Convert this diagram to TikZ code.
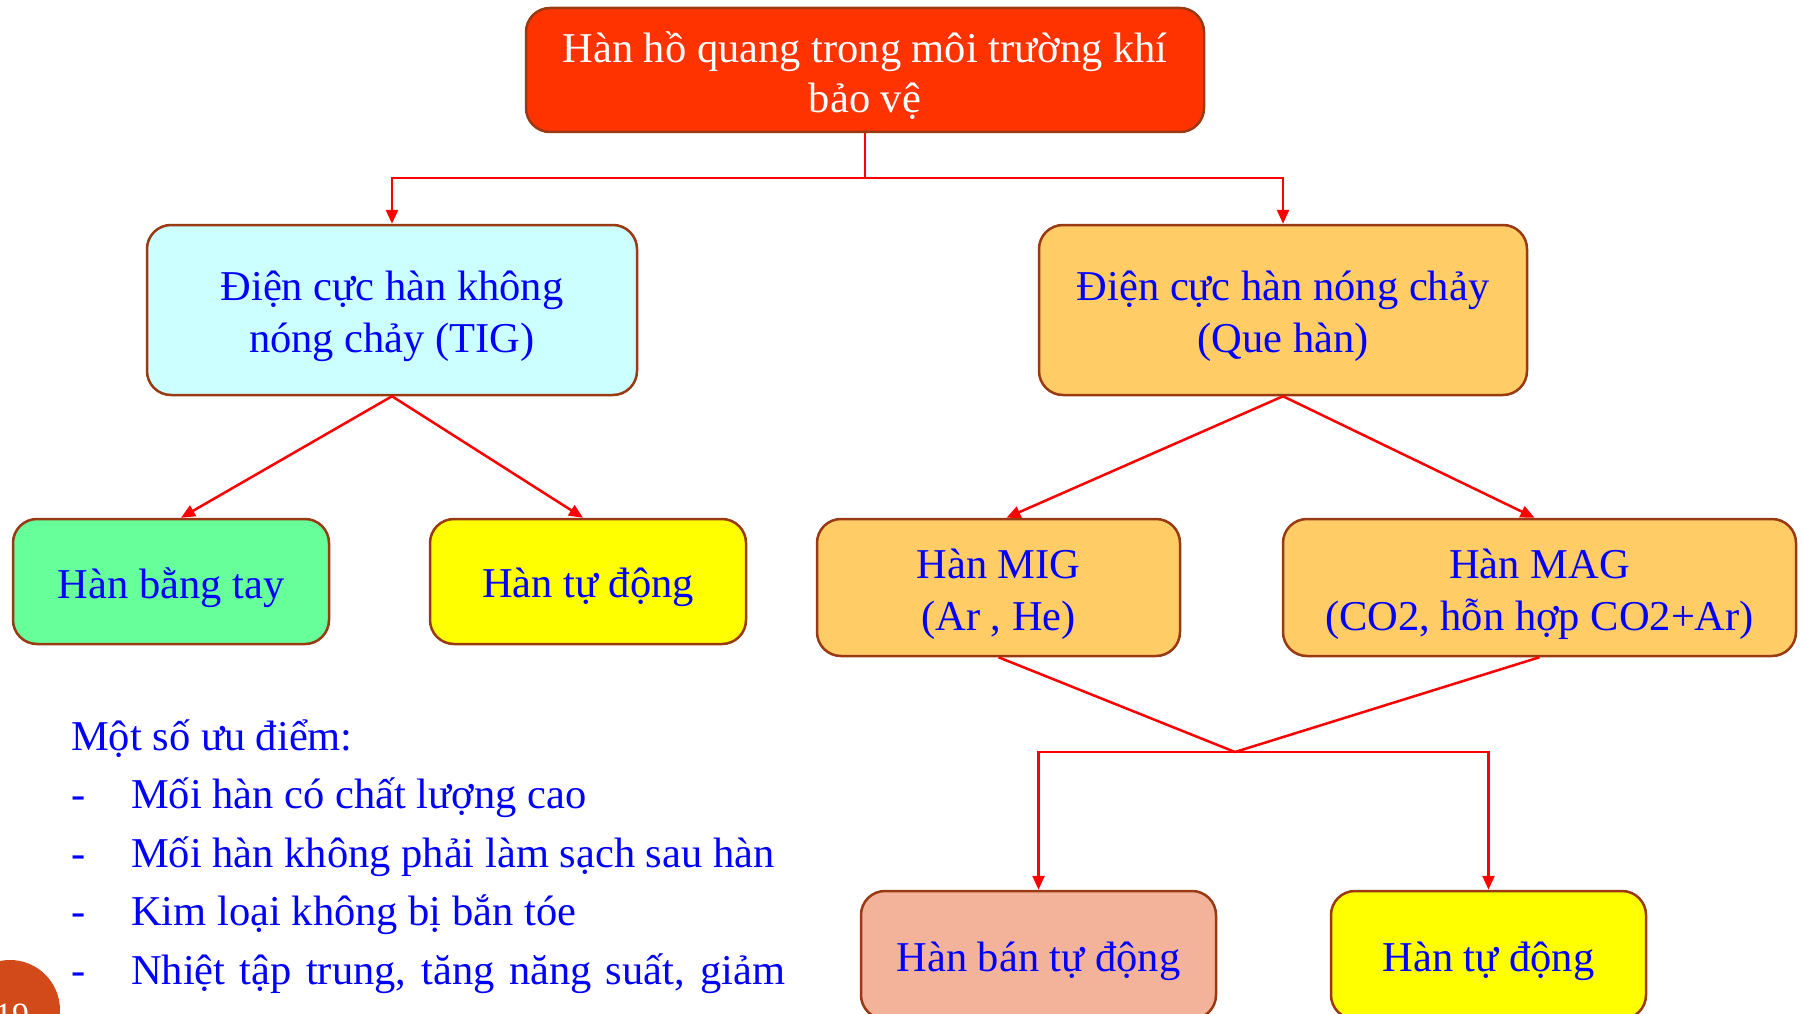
\documentclass[tikz,border=0pt]{standalone}
\usepackage{fontspec}
\setmainfont{Liberation Serif}
\usetikzlibrary{arrows.meta,calc}
\definecolor{edgebrown}{HTML}{9A3A12}
\definecolor{linered}{HTML}{FF0000}
\definecolor{textblue}{HTML}{0000FF}
\definecolor{topfill}{HTML}{FF3300}
\definecolor{cyanfill}{HTML}{CCFFFF}
\definecolor{orangefill}{HTML}{FFCC66}
\definecolor{greenfill}{HTML}{66FF99}
\definecolor{yellowfill}{HTML}{FFFF00}
\definecolor{salmonfill}{HTML}{F3B39B}
\definecolor{pagecirc}{HTML}{D24A1A}
\begin{document}
\begin{tikzpicture}[x=1pt,y=-1pt,
  box/.style={draw=edgebrown, line width=2.5pt, rounded corners=24pt, inner sep=0pt},
  lbl/.style={align=center, inner sep=0pt, text=textblue, font=\fontsize{42.5}{52}\selectfont},
  conn/.style={draw=linered, line width=2.5pt},
  arr/.style={conn, -{Triangle[length=14pt,width=12pt]}},
  listtext/.style={anchor=base west, inner sep=0pt, text=textblue, font=\fontsize{42.5}{52}\selectfont}]
\useasboundingbox (0,0) rectangle (1802,1014);
\clip (0,0) rectangle (1802,1014);

% boxes
\node[box, fill=topfill, minimum width=678pt, minimum height=124pt] (top) at (865,70) {};
\node[lbl, text=white, font=\fontsize{42.5}{50}\selectfont] (topt) at (865,76)
  {Hàn hồ quang trong môi trường khí\\bảo vệ};
\node[box, fill=cyanfill, minimum width=490pt, minimum height=170pt] (tig) at (392,310) {};
\node[lbl] (tigt) at (392,316) {Điện cực hàn không\\nóng chảy (TIG)};
\node[box, fill=orangefill, minimum width=488pt, minimum height=170pt] (que) at (1283,310) {};
\node[lbl] (quet) at (1283,316) {Điện cực hàn nóng chảy\\(Que hàn)};
\node[box, fill=greenfill, minimum width=316pt, minimum height=125pt] (tay) at (171,581.5) {};
\node[lbl] (tayt) at (171,587.5) {Hàn bằng tay};
\node[box, fill=yellowfill, minimum width=316pt, minimum height=125pt] (tdl) at (588,581.5) {};
\node[lbl] (tdlt) at (588,587.5) {Hàn tự động};
\node[box, fill=orangefill, minimum width=363pt, minimum height=137pt] (mig) at (998.5,587.5) {};
\node[lbl] (migt) at (998.5,594.5) {Hàn MIG\\(Ar , He)};
\node[box, fill=orangefill, minimum width=513pt, minimum height=137pt] (mag) at (1539.5,587.5) {};
\node[lbl] (magt) at (1539.5,594.5) {Hàn MAG\\(CO2, hỗn hợp CO2+Ar)};
\node[box, fill=salmonfill, minimum width=355pt, minimum height=128pt] (ban) at (1038.5,955) {};
\node[lbl] (bant) at (1038.5,961) {Hàn bán tự động};
\node[box, fill=yellowfill, minimum width=315pt, minimum height=128pt] (tdr) at (1488.5,955) {};
\node[lbl] (tdrt) at (1488.5,961) {Hàn tự động};

% connectors
\coordinate (t1) at (865,178);
\draw[conn] (top.south) -- (t1);
\draw[arr] (t1) -| (tig.north);
\draw[arr] (t1) -| (que.north);
\draw[arr] (tig.south) -- ([xshift=10pt]tay.north);
\draw[arr] (tig.south) -- ([xshift=-5pt]tdl.north);
\draw[arr] (que.south) -- ([xshift=8pt]mig.north);
\draw[arr] (que.south) -- ([xshift=-5pt]mag.north);
\coordinate (j) at (1235,752);
\draw[conn] (mig.south) -- (j) -- (mag.south);
\draw[arr] (j) -| (ban.north);
\draw[arr] (j) -| (tdr.north);

% list
\node[listtext] (l0) at (71,750) {Một số ưu điểm:};
\node[listtext] (d1) at (71,808.5) {-};
\node[listtext] (l1) at (131,808.5) {Mối hàn có chất lượng cao};
\node[listtext] (d2) at (71,867) {-};
\node[listtext] (l2) at (131,867) {Mối hàn không phải làm sạch sau hàn};
\node[listtext] (d3) at (71,925.5) {-};
\node[listtext] (l3) at (131,925.5) {Kim loại không bị bắn tóe};
\node[listtext] (d4) at (71,984) {-};
\node[listtext] (l4) at (131,984) {\makebox[654pt][s]{Nhiệt tập trung, tăng năng suất, giảm}};

% page number
\fill[pagecirc] (10,1010) circle (50);
\node[anchor=base, inner sep=0pt, text=white, font=\fontsize{34}{34}\selectfont] (pn) at (12,1026) {19};
\end{tikzpicture}
\end{document}
